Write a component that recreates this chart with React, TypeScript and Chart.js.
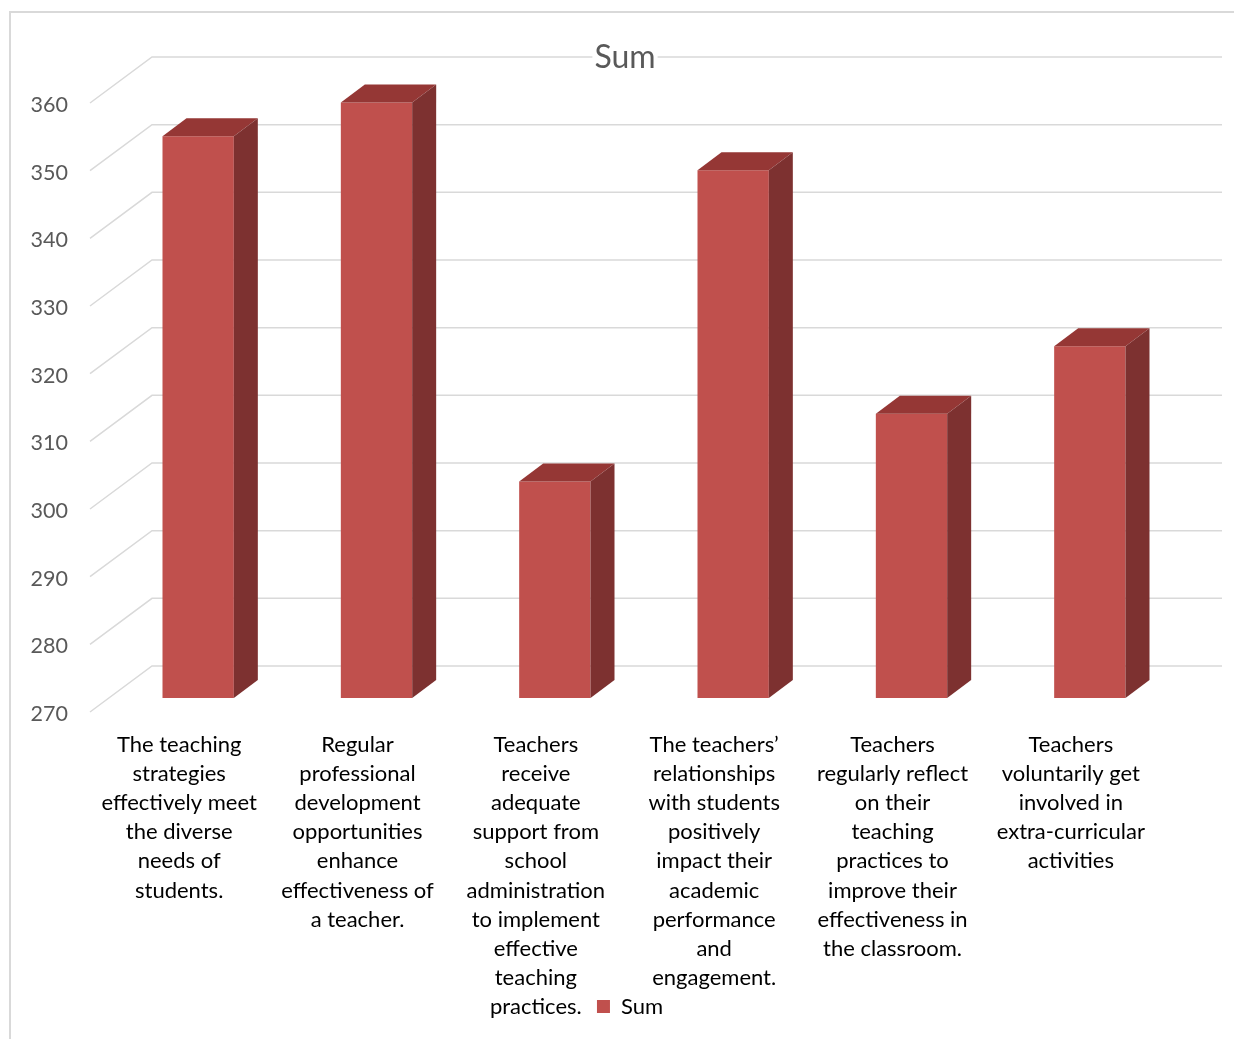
import React, { useEffect, useRef } from "react";
import { Chart, registerables } from "chart.js";

Chart.register(...registerables);

// ---- data ----
const categories: string[][] = [
  ["The teaching", "strategies", "effectively meet", "the diverse", "needs of", "students."],
  ["Regular", "professional", "development", "opportunities", "enhance", "effectiveness of", "a teacher."],
  ["Teachers", "receive", "adequate", "support from", "school", "administration", "to implement", "effective", "teaching", "practices."],
  ["The teachers’", "relationships", "with students", "positively", "impact their", "academic", "performance", "and", "engagement."],
  ["Teachers", "regularly reflect", "on their", "teaching", "practices to", "improve their", "effectiveness in", "the classroom."],
  ["Teachers", "voluntarily get", "involved in", "extra-curricular", "activities"],
];
const seriesName = "Sum";
const sumValues: number[] = [353, 358, 302, 348, 312, 322];
const yMin = 270;
const yMax = 360;
const yStep = 10;

// ---- styles ----
const FONT = "Lato, 'Open Sans', sans-serif";
const FRONT = "#c0504d";
const TOP = "#953735";
const SIDE = "#7d3130";
const GRID = "#d9d9d9";
const WALL_DX = 62;
const WALL_DY = -46;
const BAR_DX = 19;
const BAR_DY = -14;
const DEPTH_DX = 24;
const DEPTH_DY = -18;

const threeD = {
  id: "threeD",
  afterLayout(chart: any) {
    const x = chart.scales.x;
    if (x) x.bottom = chart.height;
    if (chart.legend) {
      chart.legend.left += 5;
      chart.legend.right += 5;
    }
  },
  beforeDraw(chart: any) {
    const { ctx, chartArea, scales } = chart;
    const y = scales.y;
    if (!y) return;
    ctx.save();
    ctx.strokeStyle = GRID;
    ctx.lineWidth = 1.5;
    const tOpts = chart.options.plugins.title;
    ctx.font = `${tOpts.font.size}px ${FONT}`;
    const tw = ctx.measureText(tOpts.text).width;
    const cx = (chartArea.left + chartArea.right) / 2;
    y.ticks.forEach((t: any) => {
      const py = y.getPixelForValue(t.value);
      ctx.beginPath();
      ctx.moveTo(chartArea.left, py);
      ctx.lineTo(chartArea.left + WALL_DX, py + WALL_DY);
      if (t.value === yMax) {
        ctx.lineTo(cx - tw / 2 - 2, py + WALL_DY);
        ctx.moveTo(cx + tw / 2 + 2, py + WALL_DY);
      }
      ctx.lineTo(chartArea.right + WALL_DX, py + WALL_DY);
      ctx.stroke();
    });
    ctx.restore();
  },
  beforeDatasetsDraw(chart: any) {
    chart.ctx.save();
    chart.ctx.translate(BAR_DX, BAR_DY);
  },
  afterDatasetsDraw(chart: any) {
    const ctx = chart.ctx;
    const meta = chart.getDatasetMeta(0);
    meta.data.forEach((bar: any) => {
      const { x, y, base, width } = bar.getProps(["x", "y", "base", "width"], true);
      const l = x - width / 2;
      const r = x + width / 2;
      ctx.fillStyle = TOP;
      ctx.beginPath();
      ctx.moveTo(l, y);
      ctx.lineTo(l + DEPTH_DX, y + DEPTH_DY);
      ctx.lineTo(r + DEPTH_DX, y + DEPTH_DY);
      ctx.lineTo(r, y);
      ctx.closePath();
      ctx.fill();
      ctx.fillStyle = SIDE;
      ctx.beginPath();
      ctx.moveTo(r, y);
      ctx.lineTo(r + DEPTH_DX, y + DEPTH_DY);
      ctx.lineTo(r + DEPTH_DX, base + DEPTH_DY);
      ctx.lineTo(r, base);
      ctx.closePath();
      ctx.fill();
    });
    ctx.restore();
  },
};

export default function App() {
  const ref = useRef<HTMLCanvasElement | null>(null);
  useEffect(() => {
    if (!ref.current) return;
    const chart = new Chart(ref.current, {
      type: "bar",
      data: {
        labels: categories,
        datasets: [
          {
            label: seriesName,
            data: sumValues,
            backgroundColor: FRONT,
            borderWidth: 0,
            base: yMin,
            barPercentage: 0.4,
            categoryPercentage: 1,
          } as any,
        ],
      },
      options: {
        responsive: false,
        animation: false,
        layout: { padding: { left: 0, right: 74, top: 0, bottom: 11.5 } },
        plugins: {
          title: {
            display: true,
            text: "Sum",
            fullSize: false,
            color: "#595959",
            font: { family: FONT, size: 32, weight: "normal" },
            padding: { top: 38.8, bottom: 25.8 },
          },
          legend: {
            display: true,
            position: "bottom",
            fullSize: false,
            labels: {
              color: "#000000",
              font: { family: FONT, size: 22 },
              boxWidth: 13,
              boxHeight: 13,
              padding: 10,
            },
          },
          tooltip: { enabled: false },
        },
        scales: {
          x: {
            grid: { display: false, drawTicks: false },
            border: { display: false },
            ticks: {
              color: "#000000",
              font: { family: FONT, size: 22, lineHeight: 1.327 },
              padding: 18,
              maxRotation: 0,
              minRotation: 0,
              autoSkip: false,
            },
            afterFit: (s: any) => {
              s.height = 273.5;
            },
          },
          y: {
            min: yMin,
            max: yMax,
            grid: { display: false, drawTicks: false },
            border: { display: false },
            ticks: {
              stepSize: yStep,
              color: "#595959",
              font: { family: FONT, size: 21.5 },
              padding: 22,
              labelOffset: 2,
            },
            afterFit: (s: any) => {
              s.width = 90;
            },
          },
        },
      },
      plugins: [threeD],
    });
    return () => chart.destroy();
  }, []);

  return (
    <div
      style={{
        position: "absolute",
        left: 0,
        top: 0,
        width: 1234,
        height: 1039,
        overflow: "hidden",
        background: "#ffffff",
      }}
    >
      <canvas ref={ref} width={1234} height={1039} style={{ position: "absolute", left: 0, top: 0 }} />
      <div
        style={{
          position: "absolute",
          left: 9,
          top: 11,
          width: 1300,
          height: 1100,
          borderLeft: "2px solid #d9d9d9",
          borderTop: "2px solid #d9d9d9",
          pointerEvents: "none",
        }}
      />
    </div>
  );
}
